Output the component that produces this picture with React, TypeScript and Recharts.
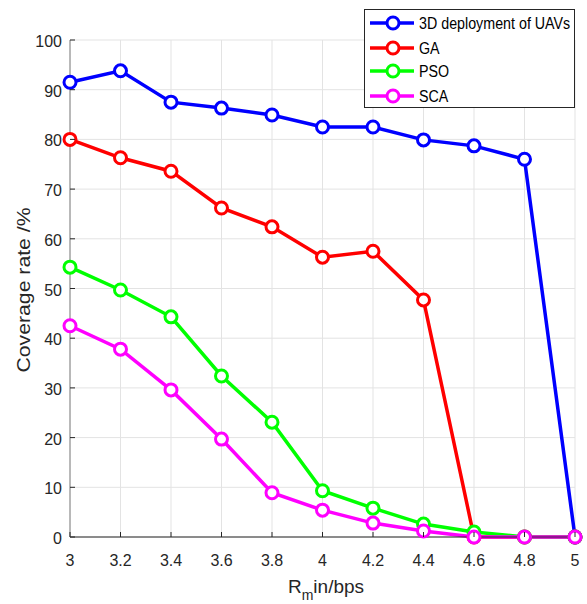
import React from 'react';
import { LineChart, Line, XAxis, YAxis, CartesianGrid } from 'recharts';

const rmin = [3, 3.2, 3.4, 3.6, 3.8, 4, 4.2, 4.4, 4.6, 4.8, 5];
const uav3d = [91.5, 93.8, 87.5, 86.3, 84.9, 82.5, 82.5, 79.9, 78.7, 76, 0];
const ga = [80, 76.3, 73.6, 66.2, 62.4, 56.3, 57.5, 47.7, 0, 0, 0];
const pso = [54.3, 49.7, 44.3, 32.4, 23.1, 9.3, 5.8, 2.6, 1, 0, 0];
const sca = [42.5, 37.8, 29.6, 19.7, 8.9, 5.4, 2.8, 1.2, 0, 0, 0];
const xTicks = [3, 3.2, 3.4, 3.6, 3.8, 4, 4.2, 4.4, 4.6, 4.8, 5];
const yTicks = [0, 10, 20, 30, 40, 50, 60, 70, 80, 90, 100];

const seriesNames = ['3D deployment of UAVs', 'GA', 'PSO', 'SCA'];
const seriesColors = ['#0000ff', '#ff0000', '#00ff00', '#ff00ff'];
const seriesKeys = ['uav', 'ga', 'pso', 'sca'];

const data = rmin.map((x, i) => ({ x, uav: uav3d[i], ga: ga[i], pso: pso[i], sca: sca[i] }));

const FONT = '"Liberation Sans", Arial, Helvetica, sans-serif';

const XTick = (props: any) => {
  const { x, y, payload } = props;
  return (
    <g>
      <line x1={x} x2={x} y1={y} y2={y - 5} stroke="#262626" strokeWidth={1} />
      <text x={x} y={y + 29} textAnchor="middle" fontSize={16} fill="#262626" fontFamily={FONT}>
        {payload.value}
      </text>
    </g>
  );
};

const YTick = (props: any) => {
  const { x, y, payload } = props;
  return (
    <g>
      <line x1={x} x2={x + 5} y1={y} y2={y} stroke="#262626" strokeWidth={1} />
      <text x={x - 8} y={y + 7} textAnchor="end" fontSize={16} fill="#262626" fontFamily={FONT}>
        {payload.value}
      </text>
    </g>
  );
};

const rowY = [14, 39, 62, 87];

const LegendBox = () => (
  <svg width={212} height={100} style={{ display: 'block' }}>
    <rect x={0.5} y={0.5} width={210} height={98} fill="#fff" stroke="#262626" strokeWidth={1} />
    {seriesNames.map((n, i) => (
      <g key={n}>
        <line x1={6} x2={50} y1={rowY[i]} y2={rowY[i]} stroke={seriesColors[i]} strokeWidth={3.5} />
        <circle cx={29} cy={rowY[i]} r={6} fill="#fff" stroke={seriesColors[i]} strokeWidth={3} />
        <text
          transform={`translate(55 ${rowY[i] + 6}) scale(0.84 1)`}
          fontSize={17}
          fill="#000"
          fontFamily={FONT}
        >
          {n}
        </text>
      </g>
    ))}
  </svg>
);

export default function App() {
  return (
    <div style={{ position: 'absolute', left: 0, top: 0, width: 587, height: 604, background: '#fff' }}>
      <LineChart width={587} height={604} data={data} margin={{ top: 40, right: 12, left: 0, bottom: 0 }}>
        <CartesianGrid stroke="#e3e3e3" strokeWidth={1} />
        <XAxis
          dataKey="x"
          type="number"
          domain={[3, 5]}
          ticks={xTicks}
          height={67}
          tickSize={0}
          tickMargin={0}
          tickLine={false}
          tick={<XTick />}
          axisLine={{ stroke: '#262626', strokeWidth: 1 }}
          interval={0}
        />
        <YAxis
          type="number"
          domain={[0, 100]}
          ticks={yTicks}
          width={70}
          tickSize={0}
          tickMargin={0}
          tickLine={false}
          tick={<YTick />}
          axisLine={{ stroke: '#808080', strokeWidth: 1 }}
          interval={0}
        />
        {seriesKeys.map((k, i) => (
          <Line
            key={k}
            dataKey={k}
            name={seriesNames[i]}
            stroke={seriesColors[i]}
            strokeWidth={3.5}
            isAnimationActive={false}
            dot={{ r: 6, fill: '#fff', stroke: seriesColors[i], strokeWidth: 3 }}
            activeDot={false}
          />
        ))}
        <text
          x={30}
          y={290}
          transform="rotate(-90 30 290)"
          textAnchor="middle"
          fontSize={19}
          fill="#262626"
          fontFamily={FONT}
          textLength={165}
          lengthAdjust="spacingAndGlyphs"
        >
          Coverage rate /%
        </text>
        <text x={326} y={593} textAnchor="middle" fontSize={19} fill="#262626" fontFamily={FONT}>
          R<tspan fontSize={14} dy={7}>m</tspan><tspan dy={-7}>in/bps</tspan>
        </text>
      </LineChart>
      <div style={{ position: 'absolute', left: 364, top: 9 }}>
        <LegendBox />
      </div>
    </div>
  );
}
